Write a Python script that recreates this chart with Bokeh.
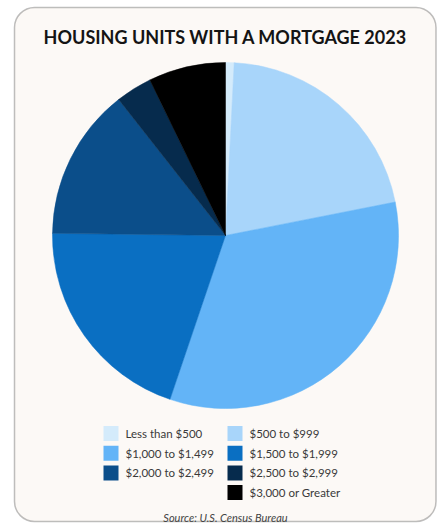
import math
from bokeh.plotting import figure
from bokeh.models import Range1d, BoxAnnotation, ColumnDataSource
from bokeh.core.properties import value
from bokeh.embed import file_html
from bokeh.resources import INLINE

# ---- data ----
categories = ["Less than $500", "$500 to $999", "$1,000 to $1,499",
              "$1,500 to $1,999", "$2,000 to $2,499", "$2,500 to $2,999",
              "$3,000 or Greater"]
shares = [0.8, 21.1, 33.3, 20.0, 14.2, 3.4, 7.2]
colors = ["#d4ebfb", "#a8d5fa", "#63b4f7", "#0a6fc2", "#0b4e8a", "#062b4d", "#000000"]
title_text = "HOUSING UNITS WITH A MORTGAGE 2023"
source_text = "Source: U.S. Census Bureau"

FONT = "Lato"
W, H = 438, 525
def sy(y):  # screen y -> data y
    return H - y

p = figure(width=W, height=H, output_backend="svg", toolbar_location=None,
           x_range=Range1d(0, W), y_range=Range1d(0, H),
           x_axis_location=None, y_axis_location=None, min_border=0)
p.grid.visible = False
p.outline_line_color = None
p.background_fill_color = "white"
p.border_fill_color = "white"

# frame
frame = BoxAnnotation(left=14, right=435.5, top=sy(7), bottom=sy(521),
                      fill_color="#fcf9f6", fill_alpha=1.0,
                      line_color="#2a2a2a", line_width=1.5, border_radius=20,
                      level="underlay")
p.add_layout(frame)

# pie
total = sum(shares)
starts, ends = [], []
cum = 0.0
for s in shares:
    starts.append(math.pi / 2 - 2 * math.pi * cum / total)
    cum += s
    ends.append(math.pi / 2 - 2 * math.pi * cum / total)
src = ColumnDataSource(dict(cat=categories, share=shares, color=colors,
                            start=starts, end=ends))
p.wedge(x=225, y=sy(235), radius=173, start_angle="start", end_angle="end",
        direction="clock", fill_color="color", line_color="color",
        line_width=0.5, source=src)

# title
p.text(x=[225], y=[sy(36)], text=[title_text], text_align="center",
       text_baseline="middle", text_font=value(FONT), text_font_style="bold",
       text_font_size="18px", text_color="#141414")

# legend (two columns, last item in right column)
lx, ly = [], []
for i, c in enumerate(categories):
    if i < len(categories) - 1:
        col, row = i % 2, i // 2
    else:
        col, row = 1, 3
    lx.append(110.5 if col == 0 else 234.5)
    ly.append(sy(433 + row * 19.7))
leg = ColumnDataSource(dict(x=lx, y=ly, tx=[x + 14.5 for x in lx],
                            cat=categories, color=colors))
p.rect(x="x", y="y", width=15, height=15, fill_color="color",
       line_color=None, source=leg)
p.text(x="tx", y="y", text="cat", text_align="left", text_baseline="middle",
       text_font=value(FONT), text_font_size="11.5px", text_color="#3a3a3a",
       source=leg)

# source
p.text(x=[225], y=[sy(517)], text=[source_text], text_align="center",
       text_baseline="middle", text_font=value(FONT), text_font_style="italic",
       text_font_size="11px", text_color="#444444")

open("out.html", "w").write(file_html(p, INLINE))
